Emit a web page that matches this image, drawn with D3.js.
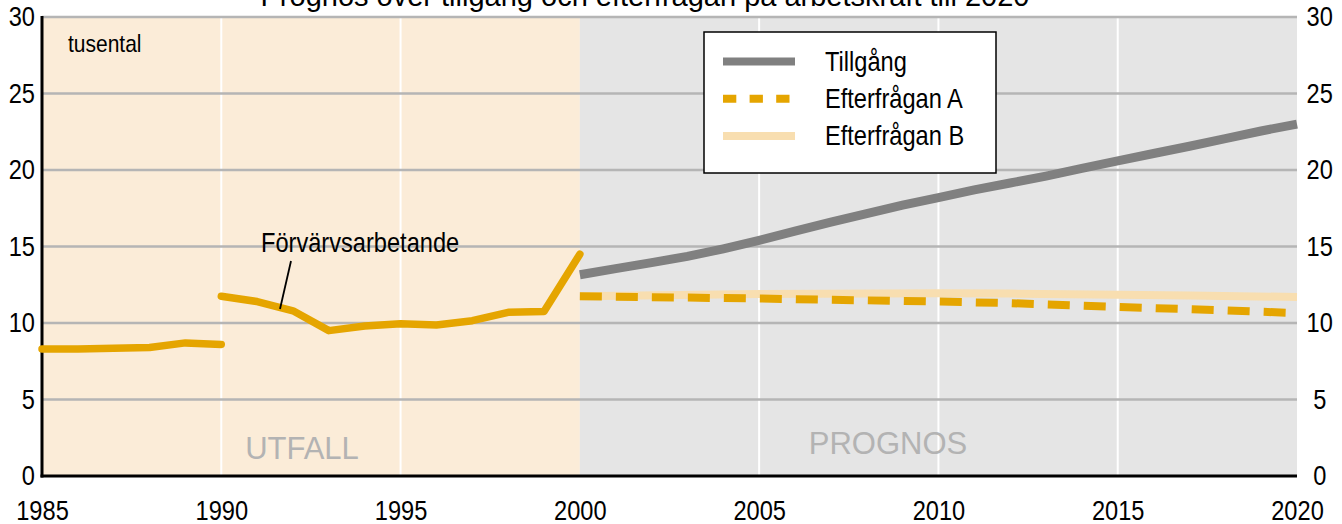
<!DOCTYPE html>
<html>
<head>
<meta charset="utf-8">
<script src="https://cdn.jsdelivr.net/npm/d3@7"></script>
<style>
  body { margin: 0; background: white; }
  svg { display: block; }
  text { font-family: "Liberation Sans", Arial, Helvetica, sans-serif; }
</style>
</head>
<body>
<svg></svg>
<script>
// utfall, forvarvsarbetande (tusental)
let utfallYears1 = [1985, 1986, 1987, 1988, 1989, 1990];
let utfallValues1 = [8.3, 8.3, 8.35, 8.4, 8.7, 8.6];
let utfallYears2 = [1990, 1991, 1992, 1993, 1994, 1995, 1996, 1997, 1998, 1999, 2000];
let utfallValues2 = [11.75, 11.4, 10.8, 9.5, 9.8, 9.95, 9.87, 10.15, 10.7, 10.75, 14.5];

// prognos
let prognosYears = [2000, 2001, 2002, 2003, 2004, 2005, 2006, 2007, 2008, 2009, 2010,
                    2011, 2012, 2013, 2014, 2015, 2016, 2017, 2018, 2019, 2020];
let tillgang = [13.15, 13.55, 13.95, 14.35, 14.85, 15.4, 16.0, 16.6, 17.15, 17.7, 18.2,
                18.7, 19.15, 19.6, 20.1, 20.6, 21.08, 21.55, 22.05, 22.55, 23.0];
let efterfraganYears = [2000, 2005, 2010, 2012, 2015, 2017, 2020];
let efterfraganA = [11.75, 11.6, 11.4, 11.3, 11.05, 10.9, 10.65];
let efterfraganB = [11.75, 11.9, 11.95, 11.92, 11.85, 11.8, 11.7];

let xTicks = [1985, 1990, 1995, 2000, 2005, 2010, 2015, 2020];
let yTicks = [0, 5, 10, 15, 20, 25, 30];
let legendLabels = ["Tillgång", "Efterfrågan A", "Efterfrågan B"];

let width = 1342;
let height = 524;
let squeeze = 0.875; // the original font is narrow

let colors = {
    utfallBg: "#fbecd8",
    prognosBg: "#e5e5e5",
    grid: "#b5b5b5",
    orange: "#e5a500",
    gray: "#808080",
    light: "#f8deb0",
    faded: "#b3b3b3"
};

let svg = d3.select("svg")
            .attr("width", width)
            .attr("height", height);

let scaleX = d3.scaleLinear().domain([1985, 2020]).range([42, 1297]);
let scaleY = d3.scaleLinear().domain([0, 30]).range([476, 17]);

drawBackground();
drawGrid();
drawAxes();
drawLines();
drawLegend();
drawTexts();

// text squeezed horizontally around its anchor
function narrowText(parent, x, y, label, size){
    return parent.append("text")
                 .attr("transform", `translate(${x}, ${y}) scale(${squeeze}, 1)`)
                 .style("font-size", size + "px")
                 .text(label);
}

function drawBackground(){
    svg.append("rect")
       .attr("x", scaleX(1985))
       .attr("y", scaleY(30))
       .attr("width", scaleX(2000) - scaleX(1985))
       .attr("height", scaleY(0) - scaleY(30))
       .attr("fill", colors.utfallBg);

    svg.append("rect")
       .attr("x", scaleX(2000))
       .attr("y", scaleY(30))
       .attr("width", scaleX(2020) - scaleX(2000))
       .attr("height", scaleY(0) - scaleY(30))
       .attr("fill", colors.prognosBg);
}

function drawGrid(){
    // white vertical lines
    svg.append("g")
       .selectAll("line")
       .data(xTicks.filter(d => d > 1985 && d < 2020 && d !== 2000))
       .enter()
       .append("line")
       .attr("x1", d => scaleX(d))
       .attr("x2", d => scaleX(d))
       .attr("y1", scaleY(30))
       .attr("y2", scaleY(0))
       .attr("stroke", "white")
       .attr("stroke-width", 2);

    // gray horizontal lines
    svg.append("g")
       .selectAll("line")
       .data(yTicks.filter(d => d > 0))
       .enter()
       .append("line")
       .attr("x1", scaleX(1985))
       .attr("x2", scaleX(2020))
       .attr("y1", d => scaleY(d))
       .attr("y2", d => scaleY(d))
       .attr("stroke", colors.grid)
       .attr("stroke-width", 2.5);
}

function drawAxes(){
    let xAxis = d3.axisBottom(scaleX)
                  .tickValues(xTicks)
                  .tickFormat(d3.format("d"))
                  .tickSize(0)
                  .tickPadding(25);
    let gx = svg.append("g")
                .attr("transform", `translate(0, ${scaleY(0)})`)
                .call(xAxis);
    gx.select(".domain").remove();
    gx.selectAll("text")
      .style("font-size", "27px")
      .attr("fill", "black")
      .attr("transform", `scale(${squeeze}, 1)`);

    let yAxisLeft = d3.axisLeft(scaleY)
                      .tickValues(yTicks)
                      .tickSize(0)
                      .tickPadding(8);
    let gl = svg.append("g")
                .attr("transform", `translate(${scaleX(1985)}, 0)`)
                .call(yAxisLeft);
    gl.select(".domain").remove();
    gl.selectAll("text")
      .style("font-size", "27px")
      .attr("fill", "black")
      .attr("transform", `scale(${squeeze}, 1)`);

    let yAxisRight = d3.axisRight(scaleY)
                       .tickValues(yTicks)
                       .tickSize(0)
                       .tickPadding(26);
    let gr = svg.append("g")
                .attr("transform", `translate(${scaleX(2020)}, 0)`)
                .call(yAxisRight);
    gr.select(".domain").remove();
    gr.selectAll("text")
      .style("font-size", "27px")
      .attr("text-anchor", "middle")
      .attr("fill", "black")
      .attr("transform", `scale(${squeeze}, 1)`);

    // black axis lines
    svg.append("line")
       .attr("x1", scaleX(1985)).attr("x2", scaleX(1985))
       .attr("y1", scaleY(30) - 1).attr("y2", scaleY(0) + 1.5)
       .attr("stroke", "black").attr("stroke-width", 3);
    svg.append("line")
       .attr("x1", scaleX(1985) - 1.5).attr("x2", scaleX(2020))
       .attr("y1", scaleY(0)).attr("y2", scaleY(0))
       .attr("stroke", "black").attr("stroke-width", 3);
}

function drawLines(){
    let line = d3.line()
                 .x(d => scaleX(d[0]))
                 .y(d => scaleY(d[1]));

    svg.append("path")
       .datum(d3.zip(efterfraganYears, efterfraganB))
       .attr("d", line)
       .attr("fill", "none")
       .attr("stroke", colors.light)
       .attr("stroke-width", 8);

    svg.append("path")
       .datum(d3.zip(efterfraganYears, efterfraganA))
       .attr("d", line)
       .attr("fill", "none")
       .attr("stroke", colors.orange)
       .attr("stroke-width", 8)
       .attr("stroke-dasharray", "22,14");

    svg.append("path")
       .datum(d3.zip(prognosYears, tillgang))
       .attr("d", line)
       .attr("fill", "none")
       .attr("stroke", colors.gray)
       .attr("stroke-width", 9);

    [[utfallYears1, utfallValues1], [utfallYears2, utfallValues2]].forEach(s => {
        svg.append("path")
           .datum(d3.zip(s[0], s[1]))
           .attr("d", line)
           .attr("fill", "none")
           .attr("stroke", colors.orange)
           .attr("stroke-width", 7.5)
           .attr("stroke-linecap", "round")
           .attr("stroke-linejoin", "round");
    });
}

function drawLegend(){
    let lg = svg.append("g").attr("transform", "translate(704, 32)");
    lg.append("rect")
      .attr("width", 292)
      .attr("height", 141)
      .attr("fill", "white")
      .attr("stroke", "black")
      .attr("stroke-width", 1.5);

    let styles = [
        {color: colors.gray, dash: null},
        {color: colors.orange, dash: "13.3,13.3"},
        {color: colors.light, dash: null}
    ];

    legendLabels.forEach((d, i) => {
        let row = lg.append("g")
                    .attr("transform", `translate(0, ${29.5 + i * 37.2})`);
        row.append("line")
           .attr("x1", 19).attr("x2", 91)
           .attr("stroke", styles[i].color)
           .attr("stroke-width", 8)
           .attr("stroke-dasharray", styles[i].dash);
        narrowText(row, 121, 0, d, 27).attr("dy", "0.35em");
    });
}

function drawTexts(){
    svg.append("text")
       .attr("x", 645)
       .attr("y", 6)
       .attr("text-anchor", "middle")
       .style("font-size", "29px")
       .text("Prognos över tillgång och efterfrågan på arbetskraft till 2020");

    narrowText(svg, 68, 52, "tusental", 24);

    narrowText(svg, 261, 252, "Förvärvsarbetande", 27);

    svg.append("line")
       .attr("x1", 291).attr("y1", 261)
       .attr("x2", 280).attr("y2", 309)
       .attr("stroke", "black")
       .attr("stroke-width", 1.8);

    svg.append("text")
       .attr("x", 302)
       .attr("y", 459)
       .attr("text-anchor", "middle")
       .attr("fill", colors.faded)
       .style("font-size", "31px")
       .text("UTFALL");

    svg.append("text")
       .attr("x", 888)
       .attr("y", 454)
       .attr("text-anchor", "middle")
       .attr("fill", colors.faded)
       .style("font-size", "31px")
       .text("PROGNOS");
}
</script>
</body>
</html>
